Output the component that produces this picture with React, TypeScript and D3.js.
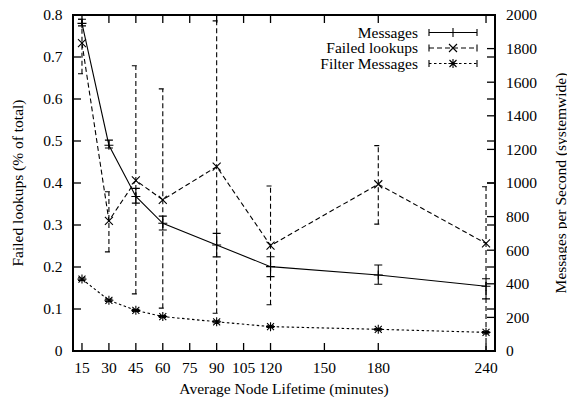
import React from "react";
import * as d3 from "d3";

const lifetimes = [15, 30, 45, 60, 90, 120, 180, 240];
const xTicks = [15, 30, 45, 60, 75, 90, 105, 120, 150, 180, 240];
const leftTicks = [0, 0.1, 0.2, 0.3, 0.4, 0.5, 0.6, 0.7, 0.8];
const rightTicks = [0, 200, 400, 600, 800, 1000, 1200, 1400, 1600, 1800, 2000];

// Messages (right axis)
const msgVal = [1950, 1225, 920, 760, 631, 502, 452, 385];
const msgLo = [1935, 1208, 880, 720, 560, 443, 397, 310];
const msgHi = [1975, 1255, 968, 803, 700, 561, 512, 430];
// Failed lookups (left axis)
const failVal = [0.733, 0.31, 0.406, 0.36, 0.439, 0.251, 0.397, 0.256];
const failLo = [0.66, 0.236, 0.136, 0.102, 0.09, 0.11, 0.302, 0.0];
const failHi = [0.79, 0.379, 0.679, 0.624, 0.786, 0.393, 0.489, 0.391];
// Filter messages (right axis)
const filtVal = [428, 302, 242, 205, 174, 145, 129, 111];
const filtLo = [420, 295, 236, 199, 168, 140, 124, 106];
const filtHi = [436, 309, 248, 211, 180, 150, 134, 116];

const legendLabels = ["Messages", "Failed lookups", "Filter Messages"];

const L = 73, R = 495, T = 15, B = 351;
const FONT = '"Liberation Serif", "Times New Roman", Times, "DejaVu Serif", serif';
const FS = 15.5;

export default function App() {
  const x = d3.scaleLinear().domain([10, 245]).range([L, R]);
  const yL = d3.scaleLinear().domain([0, 0.8]).range([B, T]);
  const yR = d3.scaleLinear().domain([0, 2000]).range([B, T]);
  const tk = 8;
  const cap = 4;

  const lineGen = (ys: number[], sc: any) =>
    d3.line<number>().x((_, i) => x(lifetimes[i])).y((v) => sc(v))(ys) || "";

  const plus = (cx: number, cy: number, s = 4.5) => `M${cx - s},${cy}H${cx + s}M${cx},${cy - s}V${cy + s}`;
  const cross = (cx: number, cy: number, s = 4) => `M${cx - s},${cy - s}L${cx + s},${cy + s}M${cx - s},${cy + s}L${cx + s},${cy - s}`;
  const star = (cx: number, cy: number) => plus(cx, cy, 4.5) + cross(cx, cy, 3.5);

  const errPaths = (lo: number[], hi: number[], sc: any) =>
    lifetimes.map((t, i) => {
      const cx = x(t);
      return `M${cx},${sc(lo[i])}V${sc(hi[i])}M${cx - cap},${sc(lo[i])}H${cx + cap}M${cx - cap},${sc(hi[i])}H${cx + cap}`;
    }).join("");

  const series = [
    { val: msgVal, lo: msgLo, hi: msgHi, sc: yR, dash: undefined, mk: plus },
    { val: failVal, lo: failLo, hi: failHi, sc: yL, dash: "5,3", mk: cross },
    { val: filtVal, lo: filtLo, hi: filtHi, sc: yR, dash: "2.5,2.5", mk: star },
  ];

  const legY = [32.5, 48, 63.5];
  const lx0 = 429, lx1 = 477;
  const textStyle = { fontFamily: FONT, fontSize: FS + "px" } as React.CSSProperties;

  return (
    <svg width={567} height={400} style={{ position: "fixed", left: 0, top: 0, background: "#fff" }}>
      <rect x={0} y={0} width={567} height={400} fill="#fff" />
      <defs>
        <clipPath id="plotclip">
          <rect x={L} y={T} width={R - L} height={B - T} />
        </clipPath>
      </defs>
      {/* ticks */}
      <g stroke="#000" strokeWidth={1.3}>
        {xTicks.map((t) => (
          <g key={"x" + t}>
            <line x1={x(t)} x2={x(t)} y1={B} y2={B - tk} />
            <line x1={x(t)} x2={x(t)} y1={T} y2={T + tk} />
          </g>
        ))}
        {leftTicks.map((t) => (
          <g key={"l" + t}>
            <line x1={L} x2={L + tk} y1={yL(t)} y2={yL(t)} />
            <line x1={R} x2={R - tk} y1={yL(t)} y2={yL(t)} />
          </g>
        ))}
        {rightTicks.map((t) => (
          <line key={"r" + t} x1={R} x2={R - tk} y1={yR(t)} y2={yR(t)} />
        ))}
      </g>
      <g style={textStyle} fill="#000">
        {xTicks.map((t) => (
          <text key={"xl" + t} x={x(t)} y={373} textAnchor="middle">{t}</text>
        ))}
        {leftTicks.map((t) => (
          <text key={"ll" + t} x={62.5} y={yL(t)} dy="0.35em" textAnchor="end">{t === 0 ? "0" : t.toFixed(1)}</text>
        ))}
        {rightTicks.map((t) => (
          <text key={"rl" + t} x={506} y={yR(t)} dy="0.35em" textAnchor="start">{t}</text>
        ))}
        <text x={(L + R) / 2} y={394} textAnchor="middle">Average Node Lifetime (minutes)</text>
        <text transform={`translate(23,183) rotate(-90)`} textAnchor="middle">Failed lookups (% of total)</text>
        <text transform={`translate(565.5,183) rotate(-90)`} textAnchor="middle">Messages per Second (systemwide)</text>
        {legendLabels.map((lab, k) => (
          <text key={"lt" + k} x={418} y={legY[k]} dy="0.35em" textAnchor="end">{lab}</text>
        ))}
      </g>
      {/* data */}
      <g clipPath="url(#plotclip)" fill="none" stroke="#000" strokeWidth={1.1}>
        {series.map((s, k) => (
          <g key={"s" + k}>
            <path d={lineGen(s.val, s.sc)} strokeDasharray={s.dash} />
            <path d={errPaths(s.lo, s.hi, s.sc)} strokeDasharray={s.dash} />
            <path d={lifetimes.map((t, i) => s.mk(x(t), s.sc(s.val[i]))).join("")} />
          </g>
        ))}
      </g>
      {/* legend samples */}
      {series.map((s, k) => (
        <g key={"lg" + k} fill="none" stroke="#000" strokeWidth={1.1}>
          <path d={`M${lx0},${legY[k]}H${lx1}`} strokeDasharray={s.dash} />
          <path d={`M${lx0},${legY[k] - 3.5}V${legY[k] + 3.5}M${lx1},${legY[k] - 3.5}V${legY[k] + 3.5}`} />
          <path d={s.mk((lx0 + lx1) / 2, legY[k])} />
        </g>
      ))}
      {/* border */}
      <rect x={L} y={T} width={R - L} height={B - T} fill="none" stroke="#000" strokeWidth={2} />
    </svg>
  );
}
